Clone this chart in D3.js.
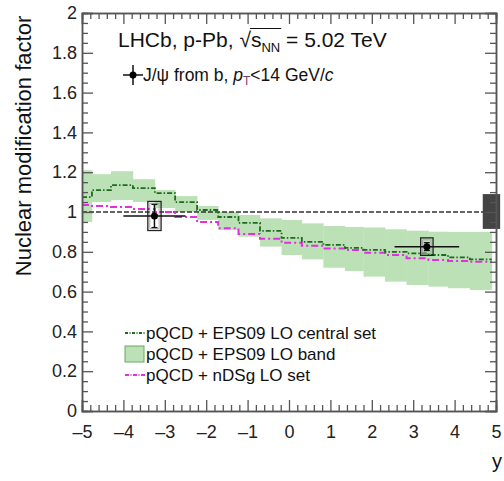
<!DOCTYPE html>
<html>
<head>
<meta charset="utf-8">
<script src="https://cdn.jsdelivr.net/npm/d3@7"></script>
<style>
  body { margin: 0; background: #fff; }
  svg { display: block; font-family: "Liberation Sans", Arial, sans-serif; }
</style>
</head>
<body>
<svg id="chart"></svg>
<script>
// rapidity bin edges of the theory curves
const binEdges = [-5, -4.76, -4.3, -3.77, -3.24, -2.75, -2.22, -1.71, -1.22, -0.70, -0.18,
                  0.31, 0.83, 1.35, 1.80, 2.32, 2.84, 3.37, 3.84, 4.37, 4.90];
// EPS09 LO band (upper / lower) per bin
const bandHigh = [1.21, 1.19, 1.205, 1.165, 1.11, 1.08, 1.03, 1.0, 0.985, 0.968,
                  0.96, 0.943, 0.93, 0.925, 0.922, 0.913, 0.906, 0.901, 0.90, 0.90];
const bandLow  = [0.95, 1.05, 1.06, 1.05, 1.02, 1.0, 0.96, 0.91, 0.876, 0.826,
                  0.784, 0.762, 0.72, 0.703, 0.675, 0.65, 0.633, 0.625, 0.617, 0.608];
// EPS09 LO central set
const eps09Central = [1.075, 1.11, 1.135, 1.12, 1.095, 1.05, 1.01, 0.975, 0.945, 0.905,
                      0.87, 0.85, 0.835, 0.82, 0.81, 0.80, 0.792, 0.784, 0.772, 0.762];
// nDSg LO set
const ndsgCentral = [1.035, 1.03, 1.025, 1.015, 1.0, 0.975, 0.95, 0.918, 0.89, 0.865,
                     0.845, 0.83, 0.817, 0.809, 0.795, 0.784, 0.767, 0.759, 0.754, 0.75];

// LHCb J/psi from b points
const pointY    = [-3.25, 3.33];
const pointHalf = [0.75, 0.78];
const pointR    = [0.98, 0.826];
const pointStat = [0.058, 0.02];
const pointSyst = [0.073, 0.044];
const systHalfW = [0.16, 0.15];
// global normalisation uncertainty box
const normBox = { x0: 4.68, x1: 5.1, lo: 0.915, hi: 1.09 };

const xTicks = d3.range(-5, 5.001, 1);
const yTicks = d3.range(0, 2.001, 0.2);

const width = 504, height = 481;
const margin = { top: 13, right: 8, bottom: 70, left: 82 };

const svg = d3.select("#chart").attr("width", width).attr("height", height);

const x = d3.scaleLinear().domain([-5, 5]).range([margin.left, width - margin.right]);
const y = d3.scaleLinear().domain([0, 2]).range([height - margin.bottom, margin.top]);

// band
const bins = binEdges.slice(0, -1).map((e, i) => ({
  x0: e, x1: binEdges[i + 1], hi: bandHigh[i], lo: bandLow[i],
  c: eps09Central[i], n: ndsgCentral[i]
}));

svg.append("g")
  .selectAll("rect")
  .data(bins)
  .join("rect")
    .attr("x", d => x(d.x0))
    .attr("width", d => x(d.x1) - x(d.x0) + 0.3)
    .attr("y", d => y(d.hi))
    .attr("height", d => y(d.lo) - y(d.hi))
    .attr("fill", "#bde1b7");

// reference line at 1
svg.append("line")
  .attr("x1", x(-5)).attr("x2", x(5))
  .attr("y1", y(1)).attr("y2", y(1))
  .attr("stroke", "#333")
  .attr("stroke-width", 1.4)
  .attr("stroke-dasharray", "5,2");

// normalisation box
svg.append("rect")
  .attr("x", x(normBox.x0))
  .attr("width", x(normBox.x1) - x(normBox.x0))
  .attr("y", y(normBox.hi))
  .attr("height", y(normBox.lo) - y(normBox.hi))
  .attr("fill", "#444");

// step curves
function stepPoints(key) {
  const pts = [];
  bins.forEach(d => { pts.push([d.x0, d[key]]); pts.push([d.x1, d[key]]); });
  return pts;
}
const line = d3.line().x(d => x(d[0])).y(d => y(d[1]));

svg.append("path")
  .attr("d", line(stepPoints("n")))
  .attr("fill", "none")
  .attr("stroke", "#e030e0")
  .attr("stroke-width", 2)
  .attr("stroke-dasharray", "7,3,2,3");

svg.append("path")
  .attr("d", line(stepPoints("c")))
  .attr("fill", "none")
  .attr("stroke", "#1d6b1d")
  .attr("stroke-width", 1.8)
  .attr("stroke-dasharray", "5,2,1.5,2");

// data points
const pts = pointY.map((v, i) => ({
  x: v, h: pointHalf[i], r: pointR[i], st: pointStat[i], sy: pointSyst[i], w: systHalfW[i]
}));
const gp = svg.append("g");
pts.forEach(d => {
  gp.append("rect")
    .attr("x", x(d.x - d.w)).attr("width", x(d.x + d.w) - x(d.x - d.w))
    .attr("y", y(d.r + d.sy)).attr("height", y(d.r - d.sy) - y(d.r + d.sy))
    .attr("fill", "none").attr("stroke", "#222").attr("stroke-width", 1.3);
  gp.append("rect")
    .attr("x", x(d.x - d.w) + 2).attr("width", x(d.x + d.w) - x(d.x - d.w) - 4)
    .attr("y", y(d.r + d.sy) + 2).attr("height", y(d.r - d.sy) - y(d.r + d.sy) - 4)
    .attr("fill", "none").attr("stroke", "#999").attr("stroke-width", 0.8);
  gp.append("line")
    .attr("x1", x(d.x - d.h)).attr("x2", x(d.x + d.h))
    .attr("y1", y(d.r)).attr("y2", y(d.r))
    .attr("stroke", "#111").attr("stroke-width", 1.5);
  gp.append("line")
    .attr("x1", x(d.x)).attr("x2", x(d.x))
    .attr("y1", y(d.r + d.st)).attr("y2", y(d.r - d.st))
    .attr("stroke", "#111").attr("stroke-width", 1.5);
  [d.r + d.st, d.r - d.st].forEach(v => {
    gp.append("line")
      .attr("x1", x(d.x) - 3).attr("x2", x(d.x) + 3)
      .attr("y1", y(v)).attr("y2", y(v))
      .attr("stroke", "#111").attr("stroke-width", 1.2);
  });
  gp.append("circle")
    .attr("cx", x(d.x)).attr("cy", y(d.r)).attr("r", 3.5).attr("fill", "#000");
});

// axes: inward ticks on all four sides
const axisColor = "#555";
const xMinor = d3.range(-5, 5.001, 0.2).filter(v => Math.abs(v - Math.round(v)) > 1e-6);
const yMinor = d3.range(0, 2.001, 0.05).filter(v => Math.abs(v / 0.2 - Math.round(v / 0.2)) > 1e-6);
const fmtX = d => d < 0 ? "\u2013" + Math.abs(d) : String(d);
const fmtY = d => String(+d.toFixed(1));

function styleAxis(g) {
  g.select(".domain").attr("stroke", axisColor).attr("stroke-width", 1.5);
  g.selectAll(".tick line").attr("stroke", axisColor).attr("stroke-width", 1.3);
  g.selectAll(".tick text").attr("fill", "#222").style("font-size", "18px")
    .style("font-family", "Liberation Sans, Arial, sans-serif");
}

const axBottom = svg.append("g").attr("transform", `translate(0,${y(0)})`);
axBottom.append("g").call(d3.axisBottom(x).tickValues(xTicks).tickSize(-11).tickPadding(14).tickFormat(fmtX)).call(styleAxis);
axBottom.append("g").call(d3.axisBottom(x).tickValues(xMinor).tickSize(-6).tickFormat("")).call(styleAxis);

const axTop = svg.append("g").attr("transform", `translate(0,${y(2)})`);
axTop.append("g").call(d3.axisTop(x).tickValues(xTicks).tickSize(-11).tickFormat("")).call(styleAxis);
axTop.append("g").call(d3.axisTop(x).tickValues(xMinor).tickSize(-6).tickFormat("")).call(styleAxis);

const axLeft = svg.append("g").attr("transform", `translate(${x(-5)},0)`);
axLeft.append("g").call(d3.axisLeft(y).tickValues(yTicks).tickSize(-11).tickPadding(5).tickFormat(fmtY)).call(styleAxis);
axLeft.append("g").call(d3.axisLeft(y).tickValues(yMinor).tickSize(-6).tickFormat("")).call(styleAxis);

const axRight = svg.append("g").attr("transform", `translate(${x(5)},0)`);
axRight.append("g").call(d3.axisRight(y).tickValues(yTicks).tickSize(-11).tickFormat("")).call(styleAxis);
axRight.append("g").call(d3.axisRight(y).tickValues(yMinor).tickSize(-6).tickFormat("")).call(styleAxis);

// axis titles
svg.append("text")
  .attr("transform", `translate(31,146) rotate(-90)`)
  .attr("text-anchor", "middle")
  .style("font-size", "22px")
  .attr("fill", "#111")
  .text("Nuclear modification factor");

svg.append("text")
  .attr("x", 497).attr("y", 468)
  .attr("text-anchor", "middle")
  .style("font-size", "20px")
  .attr("fill", "#111")
  .text("y");

// header
const title = svg.append("text").attr("x", 118).attr("y", 47)
  .style("font-size", "21px").attr("fill", "#111");
title.append("tspan").text("LHCb, p-Pb, \u221A");
title.append("tspan").text("s");
title.append("tspan").attr("dy", 5).style("font-size", "13px").text("NN");
title.append("tspan").attr("dy", -5).text(" = 5.02 TeV");
const tNode = title.node();
const sx0 = tNode.getStartPositionOfChar(13).x;
const sx1 = tNode.getStartPositionOfChar(16).x;
svg.append("line")
  .attr("x1", sx0 - 1).attr("x2", sx1 + 1)
  .attr("y1", 28.5).attr("y2", 28.5)
  .attr("stroke", "#111").attr("stroke-width", 1.1);

// header marker
svg.append("line").attr("x1", 123).attr("x2", 143).attr("y1", 75).attr("y2", 75)
  .attr("stroke", "#111").attr("stroke-width", 1.5);
svg.append("line").attr("x1", 133).attr("x2", 133).attr("y1", 65).attr("y2", 85)
  .attr("stroke", "#111").attr("stroke-width", 1.5);
svg.append("circle").attr("cx", 133).attr("cy", 75).attr("r", 3.5).attr("fill", "#000");

const sub = svg.append("text").attr("x", 143).attr("y", 81)
  .style("font-size", "17.5px").attr("fill", "#111");
sub.append("tspan").text("J/\u03C8 from b, ");
sub.append("tspan").style("font-style", "italic").text("p");
sub.append("tspan").attr("dy", 4).style("font-size", "12px").attr("fill", "#7a3a7a").text("T");
sub.append("tspan").attr("dy", -4).text("<14 GeV/");
sub.append("tspan").style("font-style", "italic").text("c");

// legend
const legendLabels = ["pQCD + EPS09 LO central set", "pQCD + EPS09 LO band", "pQCD + nDSg LO set"];
const legY = [333, 354, 375];
const lg = svg.append("g");
lg.append("line").attr("x1", 125).attr("x2", 145).attr("y1", legY[0]).attr("y2", legY[0])
  .attr("stroke", "#1d6b1d").attr("stroke-width", 1.8).attr("stroke-dasharray", "3,1.5,1,1.5");
lg.append("rect").attr("x", 125).attr("y", legY[1] - 8).attr("width", 19).attr("height", 16)
  .attr("fill", "#bde1b7").attr("stroke", "#6aa866").attr("stroke-width", 1);
lg.append("line").attr("x1", 125).attr("x2", 145).attr("y1", legY[2]).attr("y2", legY[2])
  .attr("stroke", "#e030e0").attr("stroke-width", 1.8).attr("stroke-dasharray", "4,1.5,1,1.5");
lg.selectAll("text")
  .data(legendLabels)
  .join("text")
    .attr("x", 146)
    .attr("y", (d, i) => legY[i] + 6)
    .style("font-size", "17px")
    .attr("fill", "#111")
    .text(d => d);
</script>
</body>
</html>
